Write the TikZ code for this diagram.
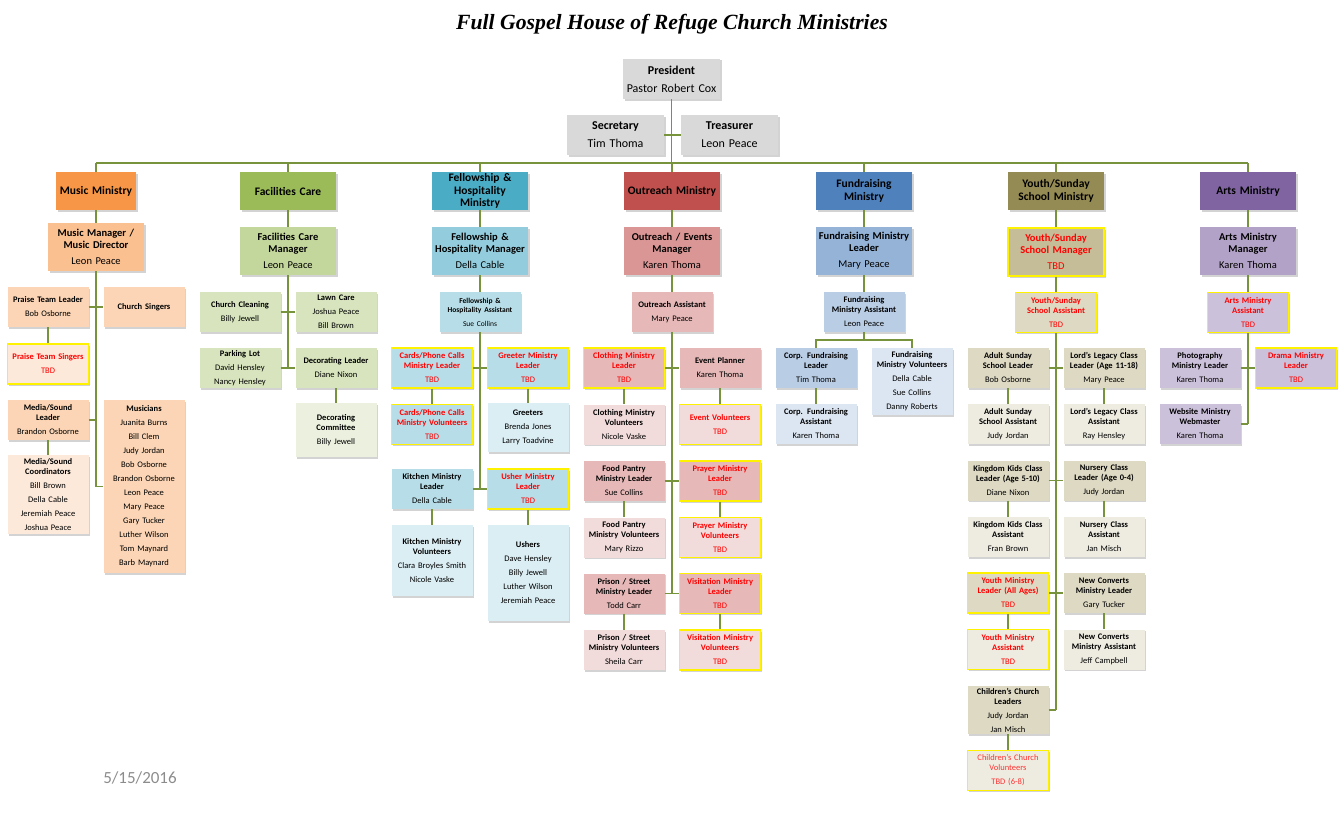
\documentclass[tikz,border=0pt]{standalone}
\usepackage{fontspec}
\setmainfont{Carlito}
\newfontfamily\titrefont{Liberation Serif}
\usetikzlibrary{shadows}
\definecolor{vert}{HTML}{77933C}
\definecolor{rouge}{HTML}{FF0000}
\definecolor{gris}{HTML}{D9D9D9}
\definecolor{dategris}{HTML}{8C8C8C}
\definecolor{musA}{HTML}{F79646}
\definecolor{musB}{HTML}{FAC090}
\definecolor{musC}{HTML}{FBD5B5}
\definecolor{musD}{HTML}{FDE9D9}
\definecolor{facA}{HTML}{9BBB59}
\definecolor{facB}{HTML}{C3D69B}
\definecolor{facC}{HTML}{D7E4BD}
\definecolor{facD}{HTML}{EBF1DE}
\definecolor{felA}{HTML}{4BACC6}
\definecolor{felB}{HTML}{93CDDD}
\definecolor{felC}{HTML}{B7DEE8}
\definecolor{felD}{HTML}{DBEEF4}
\definecolor{outA}{HTML}{C0504D}
\definecolor{outB}{HTML}{D99694}
\definecolor{outC}{HTML}{E6B9B8}
\definecolor{outD}{HTML}{F2DCDB}
\definecolor{funA}{HTML}{4F81BD}
\definecolor{funB}{HTML}{95B3D7}
\definecolor{funC}{HTML}{B9CDE5}
\definecolor{funD}{HTML}{DCE6F2}
\definecolor{youA}{HTML}{948A54}
\definecolor{youB}{HTML}{C4BD97}
\definecolor{youC}{HTML}{DDD9C3}
\definecolor{youD}{HTML}{EEECE1}
\definecolor{artA}{HTML}{8064A2}
\definecolor{artB}{HTML}{B3A2C7}
\definecolor{artC}{HTML}{CCC1DA}
\definecolor{artD}{HTML}{E5E0EC}

\begin{document}
\begin{tikzpicture}[x=1pt, y=-1pt,
        boite/.style={fill=#1, minimum height=40pt, inner sep=0pt, align=center,
            drop shadow={shadow xshift=1.5pt, shadow yshift=-1.5pt, opacity=0.35}},
        haut/.style={boite=gris, text width=97pt, font=\fontsize{12}{14}\selectfont},
        entete/.style={boite=#1, minimum height=38pt, font=\bfseries\fontsize{11.5}{12.5}\selectfont},
        moyen/.style={boite=#1, text width=96pt, minimum height=48pt, font=\fontsize{10.5}{12}\selectfont},
        petit/.style={boite=#1, text width=81pt, font=\fontsize{8.5}{10}\selectfont},
        afaire/.style={draw=yellow, line width=1.2pt, text=rouge},
        lien/.style={draw=vert, line width=1.1pt}]
    \useasboundingbox (0,0) rectangle (1344,816);
    % Titre
    \node (titre) at (672,24) {\titrefont\bfseries\itshape\fontsize{21.7}{26}\selectfont Full Gospel House of Refuge Church Ministries};
    \node[text=dategris, font=\fontsize{17}{19}\selectfont] (date) at (140,778) {5/15/2016};
    % Direction
    \node[haut] (pres) at (671.5,79) {\textbf{President}\\[4pt]Pastor Robert Cox};
    \node[haut] (sec) at (615.5,135) {\textbf{Secretary}\\[4pt]Tim Thoma};
    \node[haut] (tres) at (729.5,135) {\textbf{Treasurer}\\[4pt]Leon Peace};
    \coordinate (bus) at (672,163);
    \draw[lien] (pres.south) -- (pres.south |- bus);
    \draw[lien] (sec.east) -- (tres.west);
    % Ministeres
    \foreach \x/\w/\nom/\coul/\txt in {96/80/mus/musA/Music Ministry, 288/96/fac/facA/Facilities Care,
            480/96/fel/felA/{Fellowship \&\\Hospitality\\Ministry}, 672/96/out/outA/Outreach Ministry,
            864/96/fun/funA/{Fundraising\\Ministry}, 1056/96/you/youA/{Youth/Sunday\\School Ministry},
            1248/96/art/artA/Arts Ministry} {
        \node[entete=\coul, text width=\w pt] (\nom) at (\x,191) {\txt};
        \draw[lien] (\nom.north) -- (\nom.north |- bus);
    }
    \draw[lien] (mus.north |- bus) -- (art.north |- bus);

    % Musique
    \node[moyen=musB] (musmgr) at (96,247) {\textbf{Music Manager /}\\\textbf{Music Director}\\[4pt]Leon Peace};
    \node[petit=musC] (praise) at (48,307) {\textbf{Praise Team Leader}\\[4pt]Bob Osborne};
    \node[petit=musC] (csing) at (144,307) {\textbf{Church Singers}};
    \node[petit=musD, afaire] (pts) at (48,364) {\textbf{Praise Team Singers}\\[4pt]TBD};
    \node[petit=musC] (msl) at (48,420) {\textbf{Media/Sound}\\\textbf{Leader}\\[4pt]Brandon Osborne};
    \node[petit=musC, minimum height=173pt] (musicians) at (144,486.5) {\textbf{Musicians}\\[4pt]Juanita Burns\\[4pt]Bill Clem\\[4pt]Judy Jordan\\[4pt]Bob Osborne\\[4pt]Brandon Osborne\\[4pt]Leon Peace\\[4pt]Mary Peace\\[4pt]Gary Tucker\\[4pt]Luther Wilson\\[4pt]Tom Maynard\\[4pt]Barb Maynard};
    \node[petit=musD, minimum height=79pt] (msc) at (48,494.5) {\textbf{Media/Sound}\\\textbf{Coordinators}\\[4pt]Bill Brown\\[4pt]Della Cable\\[4pt]Jeremiah Peace\\[4pt]Joshua Peace};
    \draw[lien] (mus.south) -- (musmgr.north);
    \draw[lien] (musmgr.south) -- (musmgr.south |- musicians.west);
    \draw[lien] (praise.east) -- (csing.west);
    \draw[lien] (msl.east) -- (msl.east -| musmgr.south);
    \draw[lien] (musicians.west) -- (musicians.west -| musmgr.south);
    \draw[lien] (praise.south) -- (pts.north);
    \draw[lien] (msl.south) -- (msc.north);

    % Entretien
    \node[moyen=facB] (facmgr) at (288,251) {\textbf{Facilities Care}\\\textbf{Manager}\\[4pt]Leon Peace};
    \node[petit=facC] (clean) at (240,312) {\textbf{Church Cleaning}\\[4pt]Billy Jewell};
    \node[petit=facC] (lawn) at (336,312) {\textbf{Lawn Care}\\[4pt]Joshua Peace\\[4pt]Bill Brown};
    \node[petit=facC] (parking) at (240,368) {\textbf{Parking Lot}\\[4pt]David Hensley\\[4pt]Nancy Hensley};
    \node[petit=facC] (decor) at (336,368) {\textbf{Decorating Leader}\\[4pt]Diane Nixon};
    \node[petit=facD, minimum height=54pt] (deccom) at (336,430) {\textbf{Decorating}\\\textbf{Committee}\\[4pt]Billy Jewell};
    \draw[lien] (fac.south) -- (facmgr.north);
    \draw[lien] (facmgr.south) -- (facmgr.south |- decor.west);
    \draw[lien] (clean.east) -- (lawn.west);
    \draw[lien] (parking.east) -- (decor.west);
    \draw[lien] (decor.south) -- (deccom.north);

    % Accueil
    \node[moyen=felB] (felmgr) at (480,251) {\textbf{Fellowship \&}\\\textbf{Hospitality Manager}\\[4pt]Della Cable};
    \node[petit=felC] (felasst) at (480,312) {\fontsize{7.5}{9}\selectfont\textbf{Fellowship \&}\\\textbf{Hospitality Assistant}\\[4pt]Sue Collins};
    \node[petit=felC, afaire] (cards) at (432,368) {\textbf{Cards/Phone Calls}\\\textbf{Ministry Leader}\\[4pt]TBD};
    \node[petit=felC, afaire] (greeter) at (528,368) {\textbf{Greeter Ministry}\\\textbf{Leader}\\[4pt]TBD};
    \node[petit=felC, afaire] (cardsvol) at (432,424.5) {\textbf{Cards/Phone Calls}\\\textbf{Ministry Volunteers}\\[4pt]TBD};
    \node[petit=felD, minimum height=49pt] (greeters) at (528,427.5) {\textbf{Greeters}\\[4pt]Brenda Jones\\[4pt]Larry Toadvine};
    \node[petit=felC] (kitchen) at (432,489) {\textbf{Kitchen Ministry}\\\textbf{Leader}\\[4pt]Della Cable};
    \node[petit=felC, afaire] (usher) at (528,489) {\textbf{Usher Ministry}\\\textbf{Leader}\\[4pt]TBD};
    \node[petit=felD, minimum height=71pt] (kitvol) at (432,560.5) {\textbf{Kitchen Ministry}\\\textbf{Volunteers}\\[4pt]Clara Broyles Smith\\[4pt]Nicole Vaske};
    \node[petit=felD, minimum height=96pt] (ushers) at (528,573) {\textbf{Ushers}\\[4pt]Dave Hensley\\[4pt]Billy Jewell\\[4pt]Luther Wilson\\[4pt]Jeremiah Peace};
    \draw[lien] (fel.south) -- (felmgr.north);
    \draw[lien] (felmgr.south) -- (felasst.north);
    \draw[lien] (felasst.south) -- (felasst.south |- kitchen.east);
    \draw[lien] (cards.east) -- (greeter.west);
    \draw[lien] (kitchen.east) -- (usher.west);
    \draw[lien] (cards.south) -- (cardsvol.north);
    \draw[lien] (greeter.south) -- (greeters.north);
    \draw[lien] (kitchen.south) -- (kitvol.north);
    \draw[lien] (usher.south) -- (ushers.north);

    % Evangelisation
    \node[moyen=outB] (outmgr) at (672,251) {\textbf{Outreach / Events}\\\textbf{Manager}\\[4pt]Karen Thoma};
    \node[petit=outC] (outasst) at (672,312) {\textbf{Outreach Assistant}\\[4pt]Mary Peace};
    \node[petit=outC, afaire] (cloth) at (624,368) {\textbf{Clothing Ministry}\\\textbf{Leader}\\[4pt]TBD};
    \node[petit=outC] (evplan) at (720,368) {\textbf{Event Planner}\\[4pt]Karen Thoma};
    \node[petit=outD] (clothvol) at (624,424.5) {\textbf{Clothing Ministry}\\\textbf{Volunteers}\\[4pt]Nicole Vaske};
    \node[petit=outD, afaire, line width=1.8pt] (evvol) at (720,424.5) {\textbf{Event Volunteers}\\[4pt]TBD};
    \node[petit=outC] (food) at (624,481) {\textbf{Food Pantry}\\\textbf{Ministry Leader}\\[4pt]Sue Collins};
    \node[petit=outC, afaire] (prayer) at (720,481) {\textbf{Prayer Ministry}\\\textbf{Leader}\\[4pt]TBD};
    \node[petit=outD] (foodvol) at (624,537.5) {\textbf{Food Pantry}\\\textbf{Ministry Volunteers}\\[4pt]Mary Rizzo};
    \node[petit=outD, afaire] (prayvol) at (720,537.5) {\textbf{Prayer Ministry}\\\textbf{Volunteers}\\[4pt]TBD};
    \node[petit=outC] (prison) at (624,593.5) {\textbf{Prison / Street}\\\textbf{Ministry Leader}\\[4pt]Todd Carr};
    \node[petit=outC, afaire] (visit) at (720,593.5) {\textbf{Visitation Ministry}\\\textbf{Leader}\\[4pt]TBD};
    \node[petit=outD] (prisvol) at (624,650) {\textbf{Prison / Street}\\\textbf{Ministry Volunteers}\\[4pt]Sheila Carr};
    \node[petit=outD, afaire] (visvol) at (720,650) {\textbf{Visitation Ministry}\\\textbf{Volunteers}\\[4pt]TBD};
    \draw[lien] (out.south) -- (outmgr.north);
    \draw[lien] (outmgr.south) -- (outasst.north);
    \draw[lien] (outasst.south) -- (outasst.south |- prison.east);
    \draw[lien] (cloth.east) -- (evplan.west);
    \draw[lien] (food.east) -- (prayer.west);
    \draw[lien] (prison.east) -- (visit.west);
    \draw[lien] (cloth.south) -- (clothvol.north);
    \draw[lien] (evplan.south) -- (evvol.north);
    \draw[lien] (food.south) -- (foodvol.north);
    \draw[lien] (prayer.south) -- (prayvol.north);
    \draw[lien] (prison.south) -- (prisvol.north);
    \draw[lien] (visit.south) -- (visvol.north);

    % Collecte de fonds
    \node[moyen=funB] (funmgr) at (864,251) {\textbf{Fundraising Ministry}\\\textbf{Leader}\\[4pt]Mary Peace};
    \node[petit=funC] (funasst) at (864,312) {\textbf{Fundraising}\\\textbf{Ministry Assistant}\\[4pt]Leon Peace};
    \node[petit=funC] (corp) at (816,368) {\textbf{Corp. Fundraising}\\\textbf{Leader}\\[4pt]Tim Thoma};
    \node[petit=funD, minimum height=67pt] (funvol) at (912,381.5) {\textbf{Fundraising}\\\textbf{Ministry Volunteers}\\[4pt]Della Cable\\[4pt]Sue Collins\\[4pt]Danny Roberts};
    \node[petit=funD] (corpasst) at (816,424) {\textbf{Corp. Fundraising}\\\textbf{Assistant}\\[4pt]Karen Thoma};
    \coordinate (funsplit) at (864,340);
    \draw[lien] (fun.south) -- (funmgr.north);
    \draw[lien] (funmgr.south) -- (funasst.north);
    \draw[lien] (funasst.south) -- (funsplit);
    \draw[lien] (corp.north) |- (funsplit) -| (funvol.north);
    \draw[lien] (corp.south) -- (corpasst.north);

    % Jeunesse
    \node[moyen=youB, afaire] (youmgr) at (1056,252) {\textbf{Youth/Sunday}\\\textbf{School Manager}\\[4pt]TBD};
    \node[petit=youC, afaire] (youasst) at (1056,312.5) {\textbf{Youth/Sunday}\\\textbf{School Assistant}\\[4pt]TBD};
    \node[petit=youC] (adult) at (1008,368) {\textbf{Adult Sunday}\\\textbf{School Leader}\\[4pt]Bob Osborne};
    \node[petit=youC] (lords) at (1104,368) {\textbf{Lord’s Legacy Class}\\\textbf{Leader (Age 11-18)}\\[4pt]Mary Peace};
    \node[petit=youD] (adultasst) at (1008,424) {\textbf{Adult Sunday}\\\textbf{School Assistant}\\[4pt]Judy Jordan};
    \node[petit=youD] (lordsasst) at (1104,424) {\textbf{Lord’s Legacy Class}\\\textbf{Assistant}\\[4pt]Ray Hensley};
    \node[petit=youC] (kingdom) at (1008,480.5) {\textbf{Kingdom Kids Class}\\\textbf{Leader (Age 5-10)}\\[4pt]Diane Nixon};
    \node[petit=youC] (nursery) at (1104,480.5) {\textbf{Nursery Class}\\\textbf{Leader (Age 0-4)}\\[4pt]Judy Jordan};
    \node[petit=youD] (kingasst) at (1008,537) {\textbf{Kingdom Kids Class}\\\textbf{Assistant}\\[4pt]Fran Brown};
    \node[petit=youD] (nursasst) at (1104,537) {\textbf{Nursery Class}\\\textbf{Assistant}\\[4pt]Jan Misch};
    \node[petit=youC, afaire] (yml) at (1008,593) {\textbf{Youth Ministry}\\\textbf{Leader (All Ages)}\\[4pt]TBD};
    \node[petit=youC] (ncl) at (1104,593) {\textbf{New Converts}\\\textbf{Ministry Leader}\\[4pt]Gary Tucker};
    \node[petit=youD, afaire] (yma) at (1008,649.5) {\textbf{Youth Ministry}\\\textbf{Assistant}\\[4pt]TBD};
    \node[petit=youD] (nca) at (1104,649.5) {\textbf{New Converts}\\\textbf{Ministry Assistant}\\[4pt]Jeff Campbell};
    \node[petit=youC, minimum height=48pt] (ccl) at (1008,710) {\textbf{Children’s Church}\\\textbf{Leaders}\\[4pt]Judy Jordan\\[4pt]Jan Misch};
    \node[petit=youD, afaire, text=rouge!80] (ccv) at (1008,770.5) {Children’s Church\\Volunteers\\[4pt]TBD (6-8)};
    \draw[lien] (you.south) -- (youmgr.north);
    \draw[lien] (youmgr.south) -- (youasst.north);
    \draw[lien] (youasst.south) -- (youasst.south |- ccl.east);
    \draw[lien] (adult.east) -- (lords.west);
    \draw[lien] (kingdom.east) -- (nursery.west);
    \draw[lien] (yml.east) -- (ncl.west);
    \draw[lien] (ccl.east) -- (ccl.east -| youasst.south);
    \draw[lien] (adult.south) -- (adultasst.north);
    \draw[lien] (lords.south) -- (lordsasst.north);
    \draw[lien] (kingdom.south) -- (kingasst.north);
    \draw[lien] (nursery.south) -- (nursasst.north);
    \draw[lien] (yml.south) -- (yma.north);
    \draw[lien] (ncl.south) -- (nca.north);
    \draw[lien] (ccl.south) -- (ccv.north);

    % Arts
    \node[moyen=artB] (artmgr) at (1248,251) {\textbf{Arts Ministry}\\\textbf{Manager}\\[4pt]Karen Thoma};
    \node[petit=artC, afaire] (artasst) at (1248,312.5) {\textbf{Arts Ministry}\\\textbf{Assistant}\\[4pt]TBD};
    \node[petit=artC] (photo) at (1200,368) {\textbf{Photography}\\\textbf{Ministry Leader}\\[4pt]Karen Thoma};
    \node[petit=artC, afaire] (drama) at (1296,368) {\textbf{Drama Ministry}\\\textbf{Leader}\\[4pt]TBD};
    \node[petit=artC] (web) at (1200,424) {\textbf{Website Ministry}\\\textbf{Webmaster}\\[4pt]Karen Thoma};
    \draw[lien] (art.south) -- (artmgr.north);
    \draw[lien] (artmgr.south) -- (artasst.north);
    \draw[lien] (artasst.south) -- (artasst.south |- web.east);
    \draw[lien] (photo.east) -- (drama.west);
    \draw[lien] (web.east) -- (web.east -| artasst.south);
\end{tikzpicture}
\end{document}
